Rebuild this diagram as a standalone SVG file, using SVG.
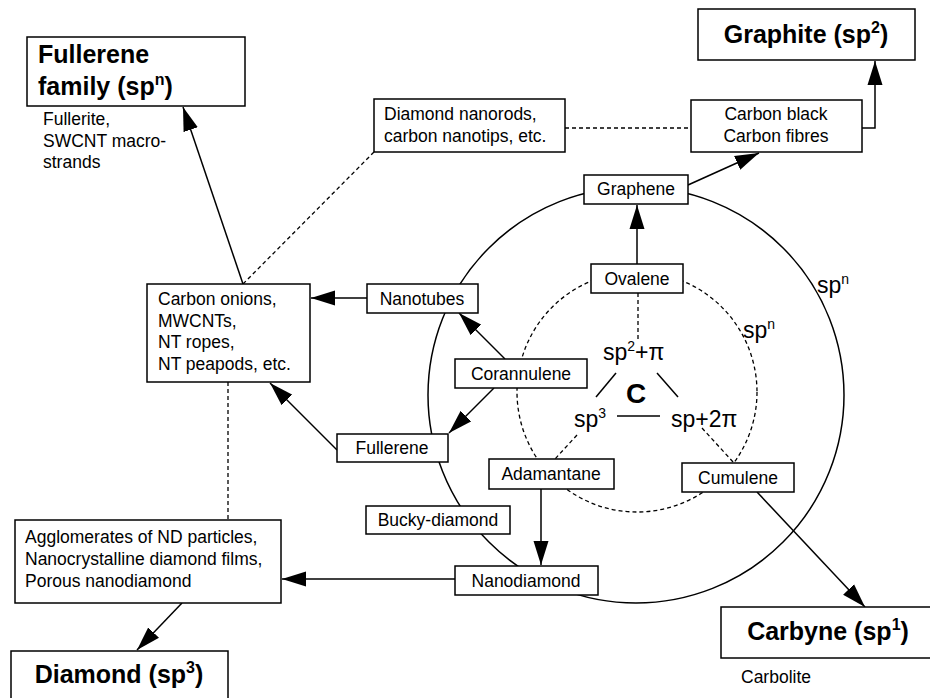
<svg xmlns="http://www.w3.org/2000/svg" width="930" height="698" viewBox="0 0 930 698">
<style>
text{font-family:"Liberation Sans",Arial,Helvetica,sans-serif;fill:#000}
.s{font-size:17.5px}
.b{font-size:25px;font-weight:bold}
.m{font-size:23px}
.c{text-anchor:middle}
rect{fill:#fff;stroke:#000;stroke-width:1.5}
.ln{fill:none;stroke:#000;stroke-width:1.5}
.ar{fill:none;stroke:#000;stroke-width:1.5;marker-end:url(#ah)}
.ds{fill:none;stroke:#000;stroke-width:1.3;stroke-dasharray:4 3}
</style>
<defs>
<marker id="ah" markerUnits="userSpaceOnUse" markerWidth="24" markerHeight="16" refX="24" refY="7.5" orient="auto" viewBox="0 0 24 15">
<path d="M0,0 L24,7.5 L0,15 z" fill="#000"/>
</marker>
</defs>

<g id="rings">
<circle cx="636" cy="395" r="208" class="ln"/>
<circle cx="637" cy="392" r="120" class="ds"/>
<text class="m" x="817" y="293">sp<tspan dy="-9" font-size="14">n</tspan></text>
<text class="m" x="743" y="338">sp<tspan dy="-9" font-size="14">n</tspan></text>
</g>

<g id="connectors">
<line x1="243" y1="284" x2="183" y2="107" class="ar"/>
<line x1="243" y1="284" x2="374" y2="152" class="ds"/>
<line x1="565" y1="128" x2="691" y2="128" class="ds"/>
<polyline points="862,128 875,128 875,61" class="ar"/>
<line x1="688" y1="185" x2="759" y2="153" class="ar"/>
<line x1="637" y1="264" x2="637" y2="205" class="ar"/>
<line x1="367" y1="298" x2="311" y2="298" class="ar"/>
<line x1="505" y1="359" x2="459" y2="313" class="ar"/>
<line x1="494" y1="388" x2="449" y2="433" class="ar"/>
<line x1="337" y1="450" x2="270" y2="383" class="ar"/>
<line x1="541" y1="489" x2="541" y2="565" class="ar"/>
<line x1="455" y1="579" x2="282" y2="579" class="ar"/>
<line x1="182" y1="603" x2="137" y2="650" class="ar"/>
<line x1="757" y1="492" x2="865" y2="607" class="ar"/>
<line x1="228" y1="382" x2="228" y2="520" class="ds"/>
<line x1="638" y1="293" x2="638" y2="340" class="ds"/>
<line x1="577" y1="435" x2="555" y2="459" class="ds"/>
<line x1="702" y1="428" x2="734" y2="463" class="ds"/>
<line x1="616" y1="373" x2="596" y2="397" class="ln"/>
<line x1="657" y1="373" x2="678" y2="397" class="ln"/>
<line x1="617" y1="416" x2="660" y2="416" class="ln"/>
</g>

<g id="center">
<text class="m" x="603" y="360">sp<tspan dy="-9" font-size="14">2</tspan><tspan dy="9">+π</tspan></text>
<text x="636" y="403" class="c" style="font-size:28px;font-weight:bold">C</text>
<text class="m" x="574" y="427">sp<tspan dy="-9" font-size="14">3</tspan></text>
<text class="m" x="671" y="427">sp+2π</text>
</g>

<g id="fullerene-family">
<rect x="27" y="37" width="218" height="69"/>
<text class="b" x="38" y="63">Fullerene</text>
<text class="b" x="38" y="95">family (sp<tspan dy="-10" font-size="16">n</tspan><tspan dy="10">)</tspan></text>
<text class="s" x="43" y="125">Fullerite,</text>
<text class="s" x="43" y="147">SWCNT macro-</text>
<text class="s" x="43" y="168">strands</text>
</g>

<g id="graphite">
<rect x="698" y="9" width="217" height="51"/>
<text class="b c" x="806" y="43">Graphite (sp<tspan dy="-10" font-size="16">2</tspan><tspan dy="10">)</tspan></text>
</g>

<g id="diamond-nanorods">
<rect x="374" y="99" width="191" height="53"/>
<text class="s" x="384" y="120">Diamond nanorods,</text>
<text class="s" x="384" y="142">carbon nanotips, etc.</text>
</g>

<g id="carbon-black">
<rect x="691" y="100" width="171" height="52"/>
<text class="s c" x="776" y="120">Carbon black</text>
<text class="s c" x="776" y="142">Carbon fibres</text>
</g>

<g id="graphene">
<rect x="584" y="175" width="104" height="29"/>
<text class="s c" x="636" y="195">Graphene</text>
</g>

<g id="ovalene">
<rect x="591" y="264" width="92" height="29"/>
<text class="s c" x="637" y="285">Ovalene</text>
</g>

<g id="nanotubes">
<rect x="367" y="284" width="111" height="29"/>
<text class="s c" x="422" y="305">Nanotubes</text>
</g>

<g id="carbon-onions">
<rect x="147" y="284" width="163" height="98"/>
<text class="s" x="158" y="305">Carbon onions,</text>
<text class="s" x="158" y="327">MWCNTs,</text>
<text class="s" x="158" y="348">NT ropes,</text>
<text class="s" x="158" y="370">NT peapods, etc.</text>
</g>

<g id="corannulene">
<rect x="455" y="359" width="132" height="29"/>
<text class="s c" x="521" y="380">Corannulene</text>
</g>

<g id="fullerene">
<rect x="337" y="434" width="111" height="28"/>
<text class="s c" x="392" y="454">Fullerene</text>
</g>

<g id="adamantane">
<rect x="489" y="459" width="125" height="30"/>
<text class="s c" x="551" y="480">Adamantane</text>
</g>

<g id="cumulene">
<rect x="682" y="463" width="112" height="29"/>
<text class="s c" x="738" y="484">Cumulene</text>
</g>

<g id="bucky-diamond">
<rect x="366" y="506" width="144" height="28"/>
<text class="s c" x="438" y="526">Bucky-diamond</text>
</g>

<g id="nanodiamond">
<rect x="455" y="566" width="143" height="29"/>
<text class="s c" x="526" y="587">Nanodiamond</text>
</g>

<g id="agglomerates">
<rect x="15" y="520" width="266" height="83"/>
<text class="s" x="25" y="543">Agglomerates of ND particles,</text>
<text class="s" x="25" y="565">Nanocrystalline diamond films,</text>
<text class="s" x="25" y="587">Porous nanodiamond</text>
</g>

<g id="diamond">
<rect x="11" y="651" width="217" height="55"/>
<text class="b c" x="119" y="683">Diamond (sp<tspan dy="-10" font-size="16">3</tspan><tspan dy="10">)</tspan></text>
</g>

<g id="carbyne">
<rect x="721" y="607" width="220" height="51"/>
<text class="b c" x="828" y="640">Carbyne (sp<tspan dy="-10" font-size="16">1</tspan><tspan dy="10">)</tspan></text>
<text class="s" x="741" y="683">Carbolite</text>
</g>
</svg>
